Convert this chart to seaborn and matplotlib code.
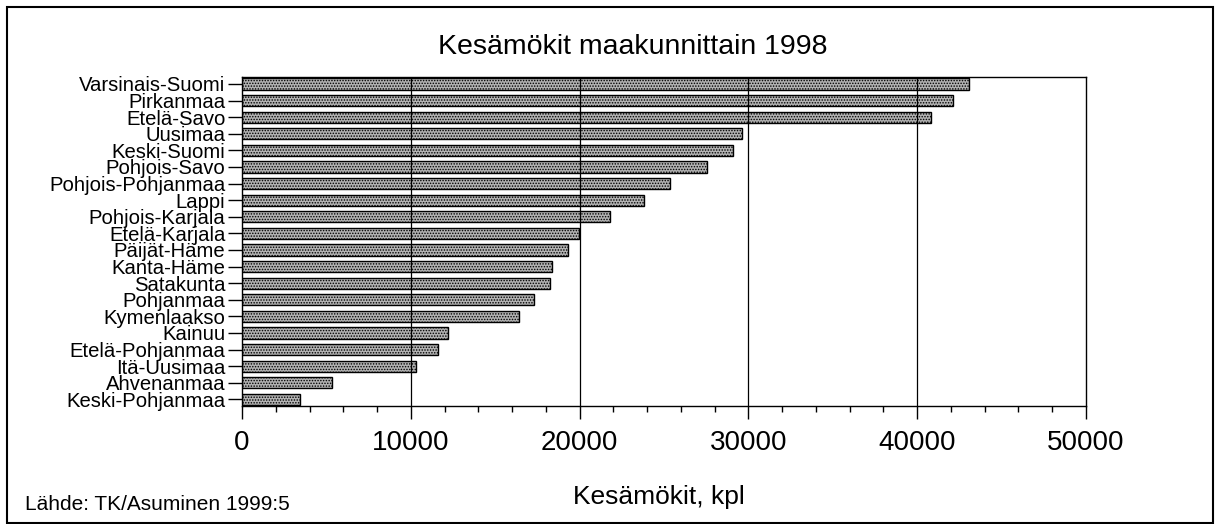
import numpy as np
import pandas as pd
import matplotlib
matplotlib.use('Agg')
import matplotlib.pyplot as plt
import seaborn as sns
from matplotlib.patches import Rectangle
from matplotlib.ticker import MultipleLocator

# Data
maakunnat = ['Varsinais-Suomi', 'Pirkanmaa', 'Etelä-Savo', 'Uusimaa', 'Keski-Suomi',
             'Pohjois-Savo', 'Pohjois-Pohjanmaa', 'Lappi', 'Pohjois-Karjala',
             'Etelä-Karjala', 'Päijät-Häme', 'Kanta-Häme', 'Satakunta', 'Pohjanmaa',
             'Kymenlaakso', 'Kainuu', 'Etelä-Pohjanmaa', 'Itä-Uusimaa',
             'Ahvenanmaa', 'Keski-Pohjanmaa']
mokit = [43050, 42150, 40800, 29650, 29100, 27550, 25350, 23800, 21800, 19950,
         19300, 18350, 18230, 17280, 16400, 12200, 11600, 10300, 5320, 3450]
x_ticks = [0, 10000, 20000, 30000, 40000, 50000]

df = pd.DataFrame({'maakunta': maakunnat, 'kpl': mokit})

sns.set_style('white')
plt.rcParams['font.family'] = ['Liberation Sans', 'DejaVu Sans']
plt.rcParams['hatch.linewidth'] = 0.7
plt.rcParams['text.color'] = 'black'
plt.rcParams['axes.labelcolor'] = 'black'
plt.rcParams['xtick.color'] = 'black'
plt.rcParams['ytick.color'] = 'black'

W, H = 1215, 524
fig = plt.figure(figsize=(W / 100, H / 100), dpi=100)
ax = fig.add_axes([242 / W, 1 - 406 / H, (1086 - 242) / W, (406 - 77) / H])

sns.barplot(data=df, x='kpl', y='maakunta', orient='h', color='#b2b2b2',
            width=0.68, edgecolor='black', linewidth=1.0, hatch='......',
            ax=ax, zorder=2)

ax.set_xlim(0, 50000)
ax.set_ylim(19.4, -0.42)
ax.set_xticks(x_ticks)
ax.set_xticklabels([str(t) for t in x_ticks])
ax.xaxis.set_minor_locator(MultipleLocator(2000))
ax.set_xlabel('')
ax.set_ylabel('')

# vertical grid lines
for t in x_ticks[1:-1]:
    ax.axvline(t, color='black', lw=0.9, zorder=3)

for s in ax.spines.values():
    s.set_visible(True)
    s.set_color('black')
    s.set_linewidth(1.0)

ax.tick_params(axis='x', which='major', direction='out', length=9, width=1,
               labelsize=20, pad=8, bottom=True)
ax.tick_params(axis='x', which='minor', direction='out', length=4.5, width=1,
               bottom=True)
ax.tick_params(axis='y', direction='out', length=10, width=1, labelsize=14.6,
               pad=2, left=True)

fig.text(633 / W, 1 - 47 / H, 'Kesämökit maakunnittain 1998', fontsize=20.5,
         ha='center', va='center')
fig.text(659 / W, 1 - 497 / H, 'Kesämökit, kpl', fontsize=19,
         ha='center', va='center')
fig.text(25 / W, 1 - 505 / H, 'Lähde: TK/Asuminen 1999:5', fontsize=15,
         ha='left', va='center')

# outer frame
fig.patches.append(Rectangle((7 / W, 1 / H), 1206 / W, 1 - 8 / H,
                             transform=fig.transFigure, fill=False,
                             edgecolor='black', linewidth=1.5))

fig.savefig('out.png', dpi=100)
